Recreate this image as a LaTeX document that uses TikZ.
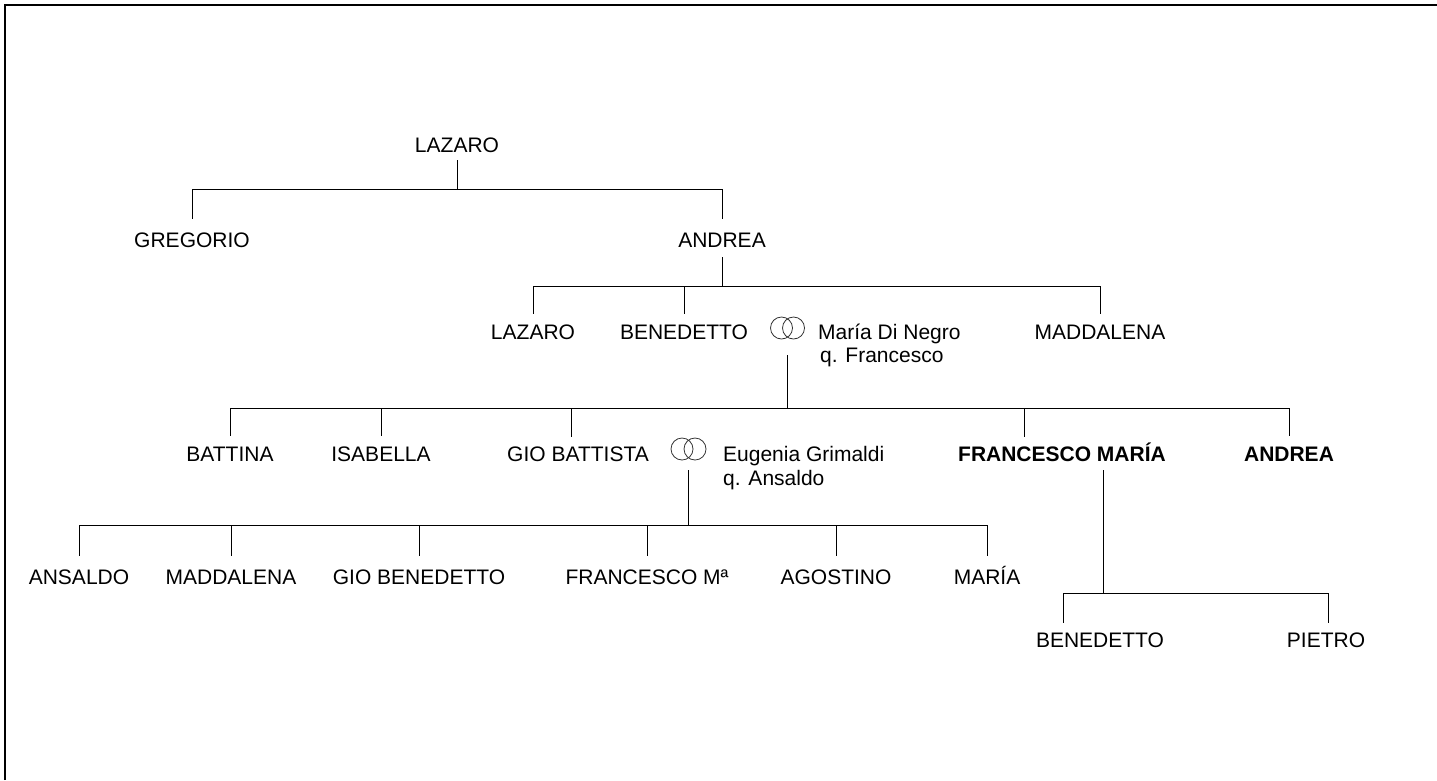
\documentclass[tikz,border=0pt]{standalone}
\usepackage{fontspec}
\setmainfont{Liberation Sans}
\begin{document}
\begin{tikzpicture}[x=1pt,y=-1pt,
  person/.style={anchor=base,inner sep=0pt,text height=15pt,text depth=0pt,font=\fontsize{21pt}{25pt}\selectfont},
  heir/.style={person,font=\fontsize{21pt}{25pt}\selectfont\bfseries},
  spouse/.style={anchor=base west,inner sep=0pt,font=\fontsize{21pt}{25pt}\selectfont},
  link/.style={line width=1pt,black},
  ring/.style={line width=0.8pt,black!80}]
\useasboundingbox (0,0) rectangle (1437,780);
\draw[line width=2pt] (4.5,780) -- (4.5,4.5) -- (1437,4.5);

% generation 0
\node[person] (lazaro0) at (457,152) {LAZARO};
% generation 1
\node[person] (gregorio) at (192,247) {GREGORIO};
\node[person] (andrea1) at (722,247) {ANDREA};
% generation 2
\node[person] (lazaro2) at (533,339) {LAZARO};
\node[person] (benedetto2) at (684,339) {BENEDETTO};
\coordinate (rings1) at (787.5,328);
\node[spouse] (maria2) at (818,339) {María Di Negro};
\node[spouse] (maria2q) at (820,362) {q. Francesco};
\node[person] (maddalena2) at (1100,339) {MADDALENA};
% generation 3
\node[person] (battina) at (230,461) {BATTINA};
\node[person] (isabella) at (381,461) {ISABELLA};
\node[person] (giobatt) at (578,461) {GIO BATTISTA};
\coordinate (rings2) at (688.5,449);
\node[spouse] (eugenia) at (723,461) {Eugenia Grimaldi};
\node[spouse] (eugeniaq) at (723,485) {q. Ansaldo};
\node[heir] (fmaria) at (1062,461) {FRANCESCO MARÍA};
\node[heir] (andrea3) at (1289,461) {ANDREA};
% generation 4
\node[person] (ansaldo) at (79,584) {ANSALDO};
\node[person] (maddalena4) at (231,584) {MADDALENA};
\node[person] (giobened) at (419,584) {GIO BENEDETTO};
\node[person] (francescoM) at (647,584) {FRANCESCO Mª};
\node[person] (agostino) at (836,584) {AGOSTINO};
\node[person] (mariaF) at (987,584) {MARÍA};
% generation 4 (branch of Francesco María)
\node[person] (benedetto5) at (1100,647) {BENEDETTO};
\node[person] (pietro) at (1326,647) {PIETRO};

% rings
\draw[ring] ([xshift=-6pt]rings1) circle[radius=11pt];
\draw[ring] ([xshift=6pt]rings1) circle[radius=11pt];
\draw[ring] ([xshift=-6.5pt]rings2) circle[radius=11pt];
\draw[ring] ([xshift=6.5pt]rings2) circle[radius=11pt];

% buses
\coordinate (bus1) at (0,189);
\coordinate (bus2) at (0,286);
\coordinate (bus3) at (0,408);
\coordinate (bus4) at (0,525);
\coordinate (bus5) at (0,593);

% family of Lazaro
\draw[link] ([yshift=-8pt]lazaro0.south) -- (lazaro0.south |- bus1);
\draw[link] (gregorio.north |- bus1) -- (andrea1.north |- bus1);
\draw[link] (gregorio.north |- bus1) -- ([yshift=13pt]gregorio.north);
\draw[link] (andrea1.north |- bus1) -- ([yshift=13pt]andrea1.north);

% family of Andrea
\draw[link] ([yshift=-10pt]andrea1.south) -- (andrea1.south |- bus2);
\draw[link] (lazaro2.north |- bus2) -- (maddalena2.north |- bus2);
\foreach \k in {lazaro2,benedetto2,maddalena2}
  \draw[link] (\k.north |- bus2) -- ([yshift=10pt]\k.north);

% family of Benedetto and María Di Negro
\coordinate (c1top) at (787.5,355);
\coordinate (c3a) at (571,437);
\coordinate (c3b) at (1024,437);
\draw[link] (c1top) -- (c1top |- bus3);
\draw[link] (battina.north |- bus3) -- (andrea3.north |- bus3);
\foreach \k in {battina,isabella,andrea3}
  \draw[link] (\k.north |- bus3) -- ([yshift=10pt]\k.north);
\draw[link] (c3a |- bus3) -- (c3a);
\draw[link] (c3b |- bus3) -- (c3b);

% family of Gio Battista and Eugenia Grimaldi
\coordinate (c2top) at (688.5,470);
\draw[link] (c2top) -- (c2top |- bus4);
\draw[link] (ansaldo.north |- bus4) -- (mariaF.north |- bus4);
\foreach \k in {ansaldo,maddalena4,giobened,francescoM,agostino,mariaF}
  \draw[link] (\k.north |- bus4) -- ([yshift=13pt]\k.north);

% family of Francesco María
\coordinate (c4top) at (1103,470);
\coordinate (c5a) at (1063,623);
\coordinate (c5b) at (1328,623);
\draw[link] (c4top) -- (c4top |- bus5);
\draw[link] (c5a |- bus5) -- (c5b |- bus5);
\draw[link] (c5a |- bus5) -- (c5a);
\draw[link] (c5b |- bus5) -- (c5b);
\end{tikzpicture}
\end{document}
